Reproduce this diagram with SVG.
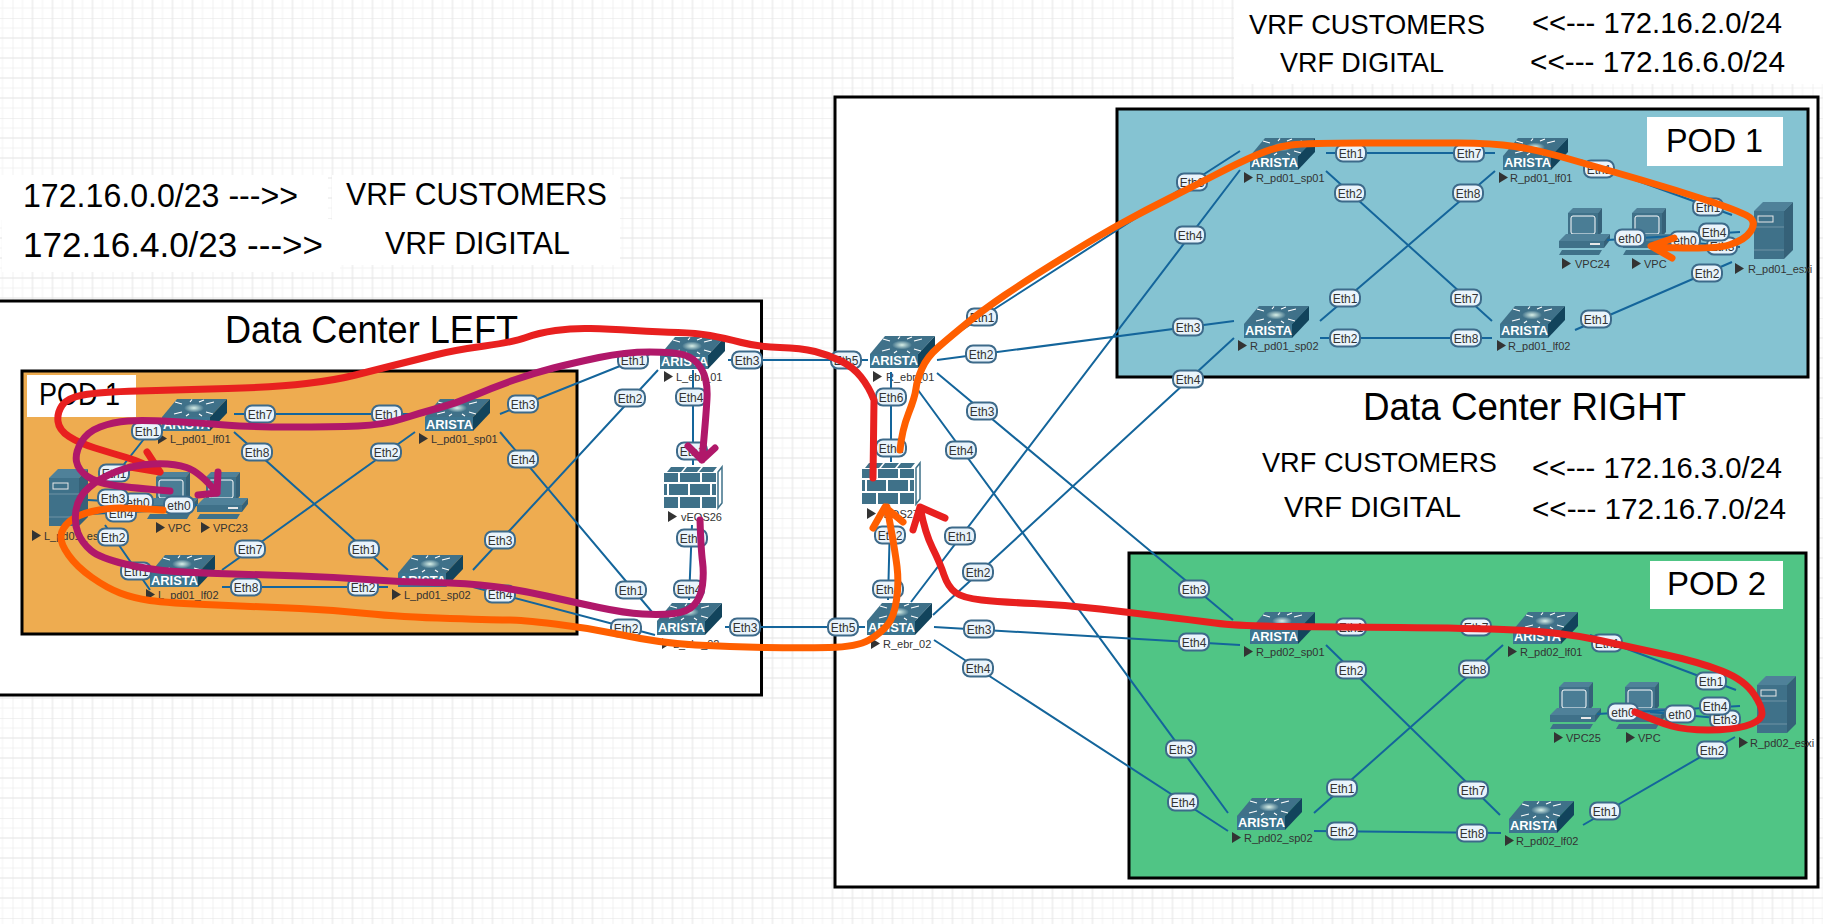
<svg xmlns="http://www.w3.org/2000/svg" width="1823" height="924" viewBox="0 0 1823 924">
<style>
text{font-family:"Liberation Sans",Arial,sans-serif;fill:#000}
.nl{font-size:11px;fill:#333}
.ar{font-size:12px;font-weight:bold;fill:#fff}
.pt{font-size:12px;fill:#333;text-anchor:middle}
.box{stroke:#000;stroke-width:3}
.lk{stroke:#14659b;stroke-width:2;fill:none}
.an{fill:none;stroke-width:7;stroke-linecap:round;stroke-linejoin:round}
.red{stroke:#e8201f}.pur{stroke:#b0186a}.org{stroke:#ff5f00}
.ic{fill:#3f7189}.icd{fill:#12445c}.icl{fill:#4f8199}
</style>
<defs>
<pattern id="grid" width="100" height="100" patternUnits="userSpaceOnUse" x="12.5" y="18">
<path d="M10 0V100M30 0V100M50 0V100M70 0V100M90 0V100M0 10H100M0 30H100M0 50H100M0 70H100M0 90H100" stroke="#f3f3f3" stroke-width="1"/>
<path d="M0 0V100M20 0V100M40 0V100M60 0V100M80 0V100M0 0H100M0 20H100M0 40H100M0 60H100M0 80H100" stroke="#e3e3e3" stroke-width="1"/>
</pattern>
<radialGradient id="hub"><stop offset="0" stop-color="#d8f0e8"/><stop offset="1" stop-color="#3f7189"/></radialGradient>
<g id="sw">
<polygon class="ic" points="15,0 65,0 48,18 0,18"/>
<polygon class="ic" points="0,18 48,18 48,32 0,32" style="fill:#3c7590"/>
<polygon class="icd" points="65,0 65,14 48,32 48,18"/>
<ellipse cx="32" cy="9" rx="10" ry="4.5" fill="url(#hub)"/>
<path d="M20 5L13 3M44 5L52 3M20 13L12 15M44 13L51 15M28 3L30 0.5M37 3L42 1M27 15L24 17M37 15L40 17" stroke="#fff" stroke-width="1.2"/>
</g>
<g id="srv">
<polygon points="0,9 9,0 39,0 30,9" style="fill:#4f8199"/>
<rect class="ic" x="0" y="9" width="30" height="48"/>
<polygon points="30,9 39,0 39,48 30,57" style="fill:#356178"/>
<rect x="4" y="14" width="15" height="6" fill="none" stroke="#e8e8e8" stroke-width="1"/>
<path d="M0 25H30M0 48H30" stroke="#fff" stroke-opacity=".25" stroke-width="1"/>
</g>
<g id="pc">
<polygon points="14,0 43,0 39,5 9,5" style="fill:#4f8199"/>
<polygon class="icd" points="39,5 43,0 43,24 39,29" style="fill:#356178"/>
<rect class="ic" x="9" y="5" width="30" height="24"/>
<rect x="12" y="8" width="24" height="18" rx="2" fill="#4a7d95" stroke="#fff" stroke-width="1"/>
<polygon points="0,33 7,26 51,26 45,33" style="fill:#4f8199"/>
<rect class="ic" x="0" y="33" width="45" height="7"/>
<polygon points="45,33 51,26 51,32 45,40" style="fill:#356178"/>
<rect x="31" y="35" width="10" height="2" fill="#e8e8e8"/>
<polygon class="ic" points="3,42 43,42 40,47 0,47"/>
</g>
<g id="fw" class="ic">
<path d="M3 5L7 0H21L17 5ZM19 5L23 0H37L33 5ZM35 5L39 0H53L49 5Z"/>
<path d="M0 6H14V15H0ZM16 6H36V15H16ZM38 6H52V15H38ZM0 17H3V28H0ZM5 17H24V28H5ZM26 17H46V28H26ZM48 17H52V28H48ZM0 30H14V41H0ZM16 30H36V41H16ZM38 30H52V41H38Z"/>
<path d="M54 5L58 0V36L54 41Z" fill="none" stroke="#3f7189" stroke-width="1.5"/>
</g>
<polygon id="tri" points="0,0 9,5.5 0,11" fill="#333"/>
<rect id="pill" x="-15" y="-8.5" width="30" height="17" rx="7" fill="#e9f3fb" stroke="#3d6a8a" stroke-width="2"/>
</defs>

<rect width="1823" height="924" fill="#fff"/>
<rect width="1823" height="924" fill="url(#grid)"/>
<g id="patches" fill="#fff">
<rect x="0" y="175" width="328" height="45"/>
<rect x="2" y="220" width="338" height="52"/>
<rect x="332" y="175" width="288" height="45"/>
<rect x="340" y="220" width="280" height="45"/>
<rect x="1234" y="0" width="589" height="84"/>
</g>

<g id="frames">
<rect class="box" x="-10" y="301" width="771.5" height="394" fill="#fff"/>
<rect class="box" x="835" y="97" width="983" height="790" fill="#fff"/>
<rect class="box" x="22" y="371" width="555" height="263" fill="#eeac50"/>
<rect class="box" x="1117" y="109" width="691" height="268" fill="#85c3d2"/>
<rect class="box" x="1129" y="553" width="677" height="325" fill="#50c585"/>
<rect x="27" y="375" width="109" height="42" fill="#fff"/>
<rect x="1647" y="117" width="136" height="49" fill="#fff"/>
<rect x="1650" y="561" width="133" height="48" fill="#fff"/>
</g>

<g id="titles">
<text x="23" y="207" font-size="34" textLength="275" lengthAdjust="spacingAndGlyphs">172.16.0.0/23 ---&gt;&gt;</text>
<text x="23" y="257" font-size="35" textLength="300" lengthAdjust="spacingAndGlyphs">172.16.4.0/23 ---&gt;&gt;</text>
<text x="346" y="205" font-size="31" textLength="261" lengthAdjust="spacingAndGlyphs">VRF CUSTOMERS</text>
<text x="385" y="254" font-size="31" textLength="185" lengthAdjust="spacingAndGlyphs">VRF DIGITAL</text>
<text x="225" y="343" font-size="38" textLength="293" lengthAdjust="spacingAndGlyphs">Data Center LEFT</text>
<text x="39" y="405" font-size="31" textLength="81" lengthAdjust="spacingAndGlyphs">POD 1</text>
<text x="1249" y="34" font-size="28" textLength="236" lengthAdjust="spacingAndGlyphs">VRF CUSTOMERS</text>
<text x="1280" y="72" font-size="28" textLength="164" lengthAdjust="spacingAndGlyphs">VRF DIGITAL</text>
<text x="1532" y="33" font-size="30" textLength="250" lengthAdjust="spacingAndGlyphs">&lt;&lt;--- 172.16.2.0/24</text>
<text x="1530" y="72" font-size="30" textLength="255" lengthAdjust="spacingAndGlyphs">&lt;&lt;--- 172.16.6.0/24</text>
<text x="1666" y="152" font-size="34" textLength="97" lengthAdjust="spacingAndGlyphs">POD 1</text>
<text x="1667" y="595" font-size="34" textLength="99" lengthAdjust="spacingAndGlyphs">POD 2</text>
<text x="1363" y="420" font-size="38" textLength="323" lengthAdjust="spacingAndGlyphs">Data Center RIGHT</text>
<text x="1262" y="472" font-size="27" textLength="235" lengthAdjust="spacingAndGlyphs">VRF CUSTOMERS</text>
<text x="1284" y="517" font-size="29" textLength="177" lengthAdjust="spacingAndGlyphs">VRF DIGITAL</text>
<text x="1532" y="478" font-size="29" textLength="250" lengthAdjust="spacingAndGlyphs">&lt;&lt;--- 172.16.3.0/24</text>
<text x="1532" y="519" font-size="29" textLength="254" lengthAdjust="spacingAndGlyphs">&lt;&lt;--- 172.16.7.0/24</text>
</g>

<g id="L_pd01_lf01"><use href="#sw" x="162" y="399"/><text class="ar" x="163" y="429" textLength="47" lengthAdjust="spacingAndGlyphs">ARISTA</text><use href="#tri" x="158" y="433"/><text class="nl" x="170" y="443">L_pd01_lf01</text></g>
<g id="L_pd01_sp01"><use href="#sw" x="425" y="399"/><text class="ar" x="426" y="429" textLength="47" lengthAdjust="spacingAndGlyphs">ARISTA</text><use href="#tri" x="419" y="433"/><text class="nl" x="431" y="443">L_pd01_sp01</text></g>
<g id="L_pd01_lf02"><use href="#sw" x="150" y="555"/><text class="ar" x="151" y="585" textLength="47" lengthAdjust="spacingAndGlyphs">ARISTA</text><use href="#tri" x="146" y="589"/><text class="nl" x="158" y="599">L_pd01_lf02</text></g>
<g id="L_pd01_sp02"><use href="#sw" x="398" y="555"/><text class="ar" x="399" y="585" textLength="47" lengthAdjust="spacingAndGlyphs">ARISTA</text><use href="#tri" x="392" y="589"/><text class="nl" x="404" y="599">L_pd01_sp02</text></g>
<g id="L_ebr_01"><use href="#sw" x="660" y="337"/><text class="ar" x="661" y="366" textLength="47" lengthAdjust="spacingAndGlyphs">ARISTA</text><use href="#tri" x="664" y="371"/><text class="nl" x="676" y="381">L_ebr_01</text></g>
<g id="L_ebr_02"><use href="#sw" x="657" y="603"/><text class="ar" x="658" y="632" textLength="47" lengthAdjust="spacingAndGlyphs">ARISTA</text><use href="#tri" x="662" y="638"/><text class="nl" x="673" y="648">L_ebr_02</text></g>
<g id="R_ebr_01"><use href="#sw" x="870" y="336"/><text class="ar" x="871" y="365" textLength="47" lengthAdjust="spacingAndGlyphs">ARISTA</text><use href="#tri" x="873" y="371"/><text class="nl" x="886" y="381">R_ebr_01</text></g>
<g id="R_ebr_02"><use href="#sw" x="867" y="603"/><text class="ar" x="868" y="632" textLength="47" lengthAdjust="spacingAndGlyphs">ARISTA</text><use href="#tri" x="871" y="638"/><text class="nl" x="883" y="648">R_ebr_02</text></g>
<g id="vEOS26"><use href="#fw" x="664" y="467"/><use href="#tri" x="668" y="511"/><text class="nl" x="681" y="521">vEOS26</text></g>
<g id="vEOS27"><use href="#fw" x="862" y="463"/><use href="#tri" x="867" y="508"/><text class="nl" x="878" y="518">vEOS27</text></g>
<g id="L_pd01_esxi"><use href="#srv" x="49" y="469"/><use href="#tri" x="32" y="530"/><text class="nl" x="44" y="540">L_pd01_esxi</text></g>
<g id="L_VPC"><use href="#pc" x="147" y="472"/><use href="#tri" x="156" y="522"/><text class="nl" x="168" y="532">VPC</text></g>
<g id="L_VPC23"><use href="#pc" x="197" y="472"/><use href="#tri" x="201" y="522"/><text class="nl" x="213" y="532">VPC23</text></g>

<g id="R_pd01_sp01"><use href="#sw" x="1250" y="138"/><text class="ar" x="1251" y="167" textLength="47" lengthAdjust="spacingAndGlyphs">ARISTA</text><use href="#tri" x="1244" y="172"/><text class="nl" x="1256" y="182">R_pd01_sp01</text></g>
<g id="R_pd01_lf01"><use href="#sw" x="1503" y="138"/><text class="ar" x="1504" y="167" textLength="47" lengthAdjust="spacingAndGlyphs">ARISTA</text><use href="#tri" x="1499" y="172"/><text class="nl" x="1510" y="182">R_pd01_lf01</text></g>
<g id="R_pd01_sp02"><use href="#sw" x="1244" y="306"/><text class="ar" x="1245" y="335" textLength="47" lengthAdjust="spacingAndGlyphs">ARISTA</text><use href="#tri" x="1238" y="340"/><text class="nl" x="1250" y="350">R_pd01_sp02</text></g>
<g id="R_pd01_lf02"><use href="#sw" x="1500" y="306"/><text class="ar" x="1501" y="335" textLength="47" lengthAdjust="spacingAndGlyphs">ARISTA</text><use href="#tri" x="1497" y="340"/><text class="nl" x="1508" y="350">R_pd01_lf02</text></g>
<g id="R_pd01_esxi"><use href="#srv" x="1754" y="202"/><use href="#tri" x="1735" y="263"/><text class="nl" x="1748" y="273">R_pd01_esxi</text></g>
<g id="VPC24"><use href="#pc" x="1559" y="208"/><use href="#tri" x="1562" y="258"/><text class="nl" x="1575" y="268">VPC24</text></g>
<g id="R1_VPC"><use href="#pc" x="1623" y="208"/><use href="#tri" x="1632" y="258"/><text class="nl" x="1644" y="268">VPC</text></g>

<g id="R_pd02_sp01"><use href="#sw" x="1250" y="612"/><text class="ar" x="1251" y="641" textLength="47" lengthAdjust="spacingAndGlyphs">ARISTA</text><use href="#tri" x="1244" y="646"/><text class="nl" x="1256" y="656">R_pd02_sp01</text></g>
<g id="R_pd02_lf01"><use href="#sw" x="1513" y="612"/><text class="ar" x="1514" y="641" textLength="47" lengthAdjust="spacingAndGlyphs">ARISTA</text><use href="#tri" x="1508" y="646"/><text class="nl" x="1520" y="656">R_pd02_lf01</text></g>
<g id="R_pd02_sp02"><use href="#sw" x="1237" y="798"/><text class="ar" x="1238" y="827" textLength="47" lengthAdjust="spacingAndGlyphs">ARISTA</text><use href="#tri" x="1232" y="832"/><text class="nl" x="1244" y="842">R_pd02_sp02</text></g>
<g id="R_pd02_lf02"><use href="#sw" x="1509" y="801"/><text class="ar" x="1510" y="830" textLength="47" lengthAdjust="spacingAndGlyphs">ARISTA</text><use href="#tri" x="1505" y="835"/><text class="nl" x="1516" y="845">R_pd02_lf02</text></g>
<g id="R_pd02_esxi"><use href="#srv" x="1757" y="676"/><use href="#tri" x="1739" y="737"/><text class="nl" x="1750" y="747">R_pd02_esxi</text></g>
<g id="VPC25"><use href="#pc" x="1550" y="682"/><use href="#tri" x="1554" y="732"/><text class="nl" x="1566" y="742">VPC25</text></g>
<g id="R2_VPC"><use href="#pc" x="1616" y="682"/><use href="#tri" x="1626" y="732"/><text class="nl" x="1638" y="742">VPC</text></g>

<g id="connectors">
<g id="links" class="lk">
<path d="M234 414H415M234 432L388 570M415 432L222 570M222 587H388M155 425L110 482M105 525L150 590M88 500L140 503M88 514L150 511M179 505H197"/>
<path d="M500 414L660 350M500 432L652 612M473 570L658 370M473 587L655 635M693 370V465M692 525L689 600M728 360H868M725 627H865M891 372V462M890 522L888 600"/>
<path d="M937 346L1240 151M937 360L1234 321M937 373L1233 620M918 390L1228 813M911 602L1240 170M933 615L1234 338M934 627L1240 645M934 640L1228 831"/>
<path d="M1326 153H1495M1326 171L1492 321M1495 171L1320 321M1320 338H1492M1580 160L1732 215M1575 330L1732 262M1607 240L1740 232M1660 240L1740 247"/>
<path d="M1326 627H1505M1326 645L1500 815M1503 645L1314 813M1314 831L1501 833M1590 635L1736 690M1583 825L1735 737M1597 714L1740 706M1650 712L1740 720"/>
</g>
<g id="labels">
<g transform="translate(260 414)"><use href="#pill"/><text class="pt" y="4.5">Eth7</text></g>
<g transform="translate(387 414)"><use href="#pill"/><text class="pt" y="4.5">Eth1</text></g>
<g transform="translate(147 431)"><use href="#pill"/><text class="pt" y="4.5">Eth1</text></g>
<g transform="translate(114 473)"><use href="#pill"/><text class="pt" y="4.5">Eth1</text></g>
<g transform="translate(121 513)"><use href="#pill"/><text class="pt" y="4.5">Eth4</text></g>
<g transform="translate(138 502)"><use href="#pill"/><text class="pt" y="4.5">eth0</text></g>
<g transform="translate(113 498)"><use href="#pill"/><text class="pt" y="4.5">Eth3</text></g>
<g transform="translate(179 505)"><use href="#pill"/><text class="pt" y="4.5">eth0</text></g>
<g transform="translate(113 537)"><use href="#pill"/><text class="pt" y="4.5">Eth2</text></g>
<g transform="translate(136 571)"><use href="#pill"/><text class="pt" y="4.5">Eth1</text></g>
<g transform="translate(257 452)"><use href="#pill"/><text class="pt" y="4.5">Eth8</text></g>
<g transform="translate(364 549)"><use href="#pill"/><text class="pt" y="4.5">Eth1</text></g>
<g transform="translate(386 452)"><use href="#pill"/><text class="pt" y="4.5">Eth2</text></g>
<g transform="translate(250 549)"><use href="#pill"/><text class="pt" y="4.5">Eth7</text></g>
<g transform="translate(246 587)"><use href="#pill"/><text class="pt" y="4.5">Eth8</text></g>
<g transform="translate(363 587)"><use href="#pill"/><text class="pt" y="4.5">Eth2</text></g>
<g transform="translate(523 404)"><use href="#pill"/><text class="pt" y="4.5">Eth3</text></g>
<g transform="translate(633 360)"><use href="#pill"/><text class="pt" y="4.5">Eth1</text></g>
<g transform="translate(523 459)"><use href="#pill"/><text class="pt" y="4.5">Eth4</text></g>
<g transform="translate(631 590)"><use href="#pill"/><text class="pt" y="4.5">Eth1</text></g>
<g transform="translate(500 540)"><use href="#pill"/><text class="pt" y="4.5">Eth3</text></g>
<g transform="translate(630 398)"><use href="#pill"/><text class="pt" y="4.5">Eth2</text></g>
<g transform="translate(500 594)"><use href="#pill"/><text class="pt" y="4.5">Eth4</text></g>
<g transform="translate(626 628)"><use href="#pill"/><text class="pt" y="4.5">Eth2</text></g>
<g transform="translate(691 397)"><use href="#pill"/><text class="pt" y="4.5">Eth4</text></g>
<g transform="translate(692 451)"><use href="#pill"/><text class="pt" y="4.5">Eth1</text></g>
<g transform="translate(692 538)"><use href="#pill"/><text class="pt" y="4.5">Eth2</text></g>
<g transform="translate(689 589)"><use href="#pill"/><text class="pt" y="4.5">Eth4</text></g>
<g transform="translate(747 360)"><use href="#pill"/><text class="pt" y="4.5">Eth3</text></g>
<g transform="translate(846 360)"><use href="#pill"/><text class="pt" y="4.5">Eth5</text></g>
<g transform="translate(745 627)"><use href="#pill"/><text class="pt" y="4.5">Eth3</text></g>
<g transform="translate(843 627)"><use href="#pill"/><text class="pt" y="4.5">Eth5</text></g>
<g transform="translate(891 397)"><use href="#pill"/><text class="pt" y="4.5">Eth6</text></g>
<g transform="translate(891 448)"><use href="#pill"/><text class="pt" y="4.5">Eth1</text></g>
<g transform="translate(890 535)"><use href="#pill"/><text class="pt" y="4.5">Eth2</text></g>
<g transform="translate(888 589)"><use href="#pill"/><text class="pt" y="4.5">Eth4</text></g>
<g transform="translate(982 317)"><use href="#pill"/><text class="pt" y="4.5">Eth1</text></g>
<g transform="translate(981 354)"><use href="#pill"/><text class="pt" y="4.5">Eth2</text></g>
<g transform="translate(982 411)"><use href="#pill"/><text class="pt" y="4.5">Eth3</text></g>
<g transform="translate(961 450)"><use href="#pill"/><text class="pt" y="4.5">Eth4</text></g>
<g transform="translate(960 536)"><use href="#pill"/><text class="pt" y="4.5">Eth1</text></g>
<g transform="translate(978 572)"><use href="#pill"/><text class="pt" y="4.5">Eth2</text></g>
<g transform="translate(979 629)"><use href="#pill"/><text class="pt" y="4.5">Eth3</text></g>
<g transform="translate(978 668)"><use href="#pill"/><text class="pt" y="4.5">Eth4</text></g>
<g transform="translate(1192 182)"><use href="#pill"/><text class="pt" y="4.5">Eth3</text></g>
<g transform="translate(1190 235)"><use href="#pill"/><text class="pt" y="4.5">Eth4</text></g>
<g transform="translate(1188 327)"><use href="#pill"/><text class="pt" y="4.5">Eth3</text></g>
<g transform="translate(1188 379)"><use href="#pill"/><text class="pt" y="4.5">Eth4</text></g>
<g transform="translate(1351 153)"><use href="#pill"/><text class="pt" y="4.5">Eth1</text></g>
<g transform="translate(1469 153)"><use href="#pill"/><text class="pt" y="4.5">Eth7</text></g>
<g transform="translate(1350 193)"><use href="#pill"/><text class="pt" y="4.5">Eth2</text></g>
<g transform="translate(1466 298)"><use href="#pill"/><text class="pt" y="4.5">Eth7</text></g>
<g transform="translate(1468 193)"><use href="#pill"/><text class="pt" y="4.5">Eth8</text></g>
<g transform="translate(1345 298)"><use href="#pill"/><text class="pt" y="4.5">Eth1</text></g>
<g transform="translate(1345 338)"><use href="#pill"/><text class="pt" y="4.5">Eth2</text></g>
<g transform="translate(1466 338)"><use href="#pill"/><text class="pt" y="4.5">Eth8</text></g>
<g transform="translate(1599 169)"><use href="#pill"/><text class="pt" y="4.5">Eth1</text></g>
<g transform="translate(1708 207)"><use href="#pill"/><text class="pt" y="4.5">Eth1</text></g>
<g transform="translate(1596 319)"><use href="#pill"/><text class="pt" y="4.5">Eth1</text></g>
<g transform="translate(1707 273)"><use href="#pill"/><text class="pt" y="4.5">Eth2</text></g>
<g transform="translate(1722 246)"><use href="#pill"/><text class="pt" y="4.5">Eth3</text></g>
<g transform="translate(1685 240)"><use href="#pill"/><text class="pt" y="4.5">eth0</text></g>
<g transform="translate(1714 232)"><use href="#pill"/><text class="pt" y="4.5">Eth4</text></g>
<g transform="translate(1630 238)"><use href="#pill"/><text class="pt" y="4.5">eth0</text></g>
<g transform="translate(1194 589)"><use href="#pill"/><text class="pt" y="4.5">Eth3</text></g>
<g transform="translate(1194 642)"><use href="#pill"/><text class="pt" y="4.5">Eth4</text></g>
<g transform="translate(1181 749)"><use href="#pill"/><text class="pt" y="4.5">Eth3</text></g>
<g transform="translate(1183 802)"><use href="#pill"/><text class="pt" y="4.5">Eth4</text></g>
<g transform="translate(1351 627)"><use href="#pill"/><text class="pt" y="4.5">Eth1</text></g>
<g transform="translate(1476 627)"><use href="#pill"/><text class="pt" y="4.5">Eth7</text></g>
<g transform="translate(1351 670)"><use href="#pill"/><text class="pt" y="4.5">Eth2</text></g>
<g transform="translate(1473 790)"><use href="#pill"/><text class="pt" y="4.5">Eth7</text></g>
<g transform="translate(1474 669)"><use href="#pill"/><text class="pt" y="4.5">Eth8</text></g>
<g transform="translate(1342 788)"><use href="#pill"/><text class="pt" y="4.5">Eth1</text></g>
<g transform="translate(1342 831)"><use href="#pill"/><text class="pt" y="4.5">Eth2</text></g>
<g transform="translate(1472 833)"><use href="#pill"/><text class="pt" y="4.5">Eth8</text></g>
<g transform="translate(1607 643)"><use href="#pill"/><text class="pt" y="4.5">Eth1</text></g>
<g transform="translate(1711 681)"><use href="#pill"/><text class="pt" y="4.5">Eth1</text></g>
<g transform="translate(1605 811)"><use href="#pill"/><text class="pt" y="4.5">Eth1</text></g>
<g transform="translate(1712 750)"><use href="#pill"/><text class="pt" y="4.5">Eth2</text></g>
<g transform="translate(1725 719)"><use href="#pill"/><text class="pt" y="4.5">Eth3</text></g>
<g transform="translate(1715 706)"><use href="#pill"/><text class="pt" y="4.5">Eth4</text></g>
<g transform="translate(1680 714)"><use href="#pill"/><text class="pt" y="4.5">eth0</text></g>
<g transform="translate(1623 712)"><use href="#pill"/><text class="pt" y="4.5">eth0</text></g>
</g>
</g>

<g id="annotations">
<path class="an org" d="M163 510Q133 508 120 508Q107 508 92 511.5Q77 515 69.5 521.5Q62 528 61 535.5Q60 543 68.5 555Q77 567 92 577.5Q107 588 120 593Q133 598 150 600.5Q167 603 217 605Q267 607 300 608.5Q333 610 366.5 613.5Q400 617 450 618.5Q500 620 510 620Q520 620 555 624Q590 628 625 635.5Q660 643 695.5 645Q731 647 766 647.5Q801 648 829 647.5Q857 647 869 640Q881 633 887.5 625Q894 617 896.5 600Q899 583 897 566.5Q895 550 887 507M873 528L885 507L903 522"/>
<path class="an org" d="M900 450Q902 430 908.5 413.5Q915 397 916 388.5Q917 380 922 368.5Q927 357 938.5 347Q950 337 966.5 323.5Q983 310 1005 295Q1027 280 1063.5 257.5Q1100 235 1123 222.5Q1146 210 1169 198.5Q1192 187 1215 175Q1238 163 1256.5 155Q1275 147 1291 145Q1307 143 1365 143Q1423 143 1457.5 143Q1492 143 1515 146.5Q1538 150 1572.5 160Q1607 170 1641.5 180Q1676 190 1710.5 201.5Q1745 213 1750.5 218Q1756 223 1750.5 231.5Q1745 240 1729 245Q1713 250 1653 247M1674 238L1651 246L1672 258"/>
<path class="an red" d="M873 478L874 400Q869 387 861 377Q853 367 841 361Q829 355 815 351.5Q801 348 780 347.5Q759 347 741.5 342.5Q724 338 710 335.5Q696 333 678 332.5Q660 332 634 330.5Q608 329 590.5 328.5Q573 328 555.5 330.5Q538 333 526 337.5Q514 342 484.5 346Q455 350 435 355Q415 360 395 365Q375 370 355.5 375Q336 380 306.5 383.5Q277 387 227.5 388.5Q178 390 138.5 391Q99 392 83 395Q67 398 62 405.5Q57 413 58 421.5Q59 430 69 436.5Q79 443 95 448Q111 453 126.5 457.5Q142 462 160 472M147 452L160 472L130 467"/>
<path class="an pur" d="M170 491Q133 488 115 485.5Q97 483 87.5 476.5Q78 470 76.5 461.5Q75 453 81 442.5Q87 432 100 427Q113 422 128 421Q143 420 171.5 421.5Q200 423 225 425Q250 427 291.5 427Q333 427 358 426Q383 425 401.5 419Q420 413 438.5 408Q457 403 475.5 395Q494 387 514 380Q534 373 553.5 368Q573 363 599 357.5Q625 352 649.5 352Q674 352 684.5 355Q695 358 701.5 369Q708 380 707 398.5Q706 417 702 460M688 446L702 460L715 448"/>
<path class="an pur" d="M700 520Q701 550 702.5 561.5Q704 573 702.5 585Q701 597 694.5 604.5Q688 612 674 613.5Q660 615 642.5 614Q625 613 599 607.5Q573 602 546.5 596Q520 590 493.5 586.5Q467 583 433.5 582.5Q400 582 366.5 579.5Q333 577 300 576Q267 575 233.5 574Q200 573 175 571.5Q150 570 125 564Q100 558 91 550.5Q82 543 78 533Q74 523 76 510Q78 497 89 487.5Q100 478 116.5 471.5Q133 465 153 464Q173 463 186.5 467.5Q200 472 217 493M218 472L217 493L198 495"/>
<path class="an red" d="M1635 712Q1658 722 1671.5 726Q1685 730 1708.5 730Q1732 730 1745.5 726Q1759 722 1761.5 716Q1764 710 1754.5 695Q1745 680 1722 671Q1699 662 1664.5 654.5Q1630 647 1595.5 639.5Q1561 632 1515 630Q1469 628 1399.5 627.5Q1330 627 1284 626.5Q1238 626 1215 623Q1192 620 1162.5 616.5Q1133 613 1100 609Q1067 605 1033.5 603.5Q1000 602 981.5 600Q963 598 955.5 592.5Q948 587 944 575Q940 563 932.5 548Q925 533 920 507M913 530L920 507L945 518"/>
</g>
</svg>
